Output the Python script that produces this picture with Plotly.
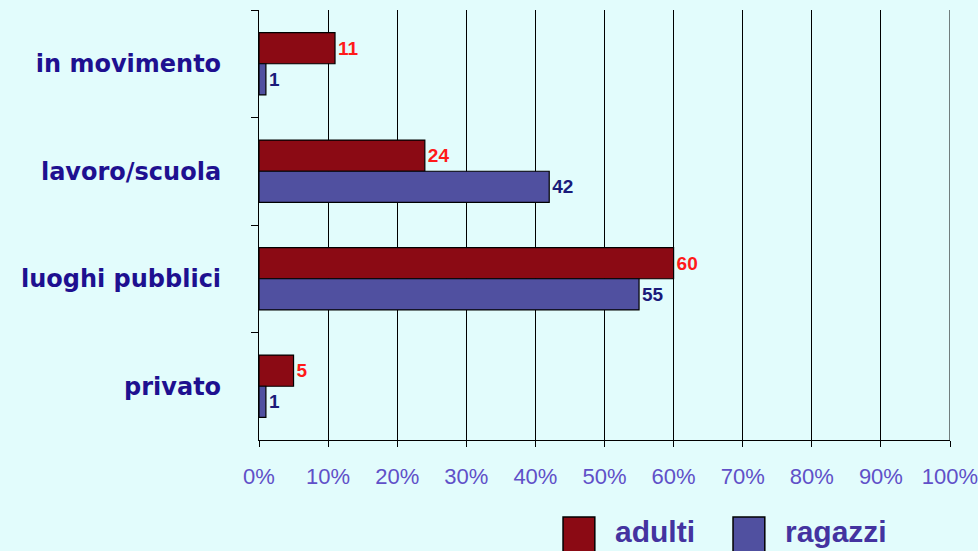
import plotly.graph_objects as go

categories = ["in movimento", "lavoro/scuola", "luoghi pubblici", "privato"]
series_names = ["adulti", "ragazzi"]
adulti = [11, 24, 60, 5]
ragazzi = [1, 42, 55, 1]
tick_vals = [0, 10, 20, 30, 40, 50, 60, 70, 80, 90, 100]
tick_text = ["0%", "10%", "20%", "30%", "40%", "50%", "60%", "70%", "80%", "90%", "100%"]

colors = ["#8B0A14", "#5050A0"]
label_colors = ["#FF1A1A", "#1A1A7A"]
bg = "#E2FCFC"

fig = go.Figure()
for name, vals, col, lcol in zip(series_names, [adulti, ragazzi], colors, label_colors):
    fig.add_trace(go.Bar(
        y=categories, x=vals, name=name, orientation="h",
        marker=dict(color=col, line=dict(color="#000000", width=1.2)),
        text=[str(v) for v in vals], textposition="outside",
        textfont=dict(family="Liberation Sans", size=19, color=lcol, weight="bold"),
        cliponaxis=False, showlegend=False,
    ))

fig.update_layout(
    width=978, height=551,
    margin=dict(l=259, r=28, t=10, b=111),
    paper_bgcolor=bg, plot_bgcolor=bg,
    barmode="group", bargap=0.42, bargroupgap=0,
    xaxis=dict(
        range=[0, 100], tickvals=tick_vals, ticktext=tick_text,
        showgrid=True, gridcolor="#000000", gridwidth=1,
        showline=True, linecolor="#000000", linewidth=1.2,
        ticks="outside", ticklen=6, tickcolor="#000000",
        tickfont=dict(family="Liberation Sans", size=22, color="#6050C8"),
        ticklabelstandoff=10, zeroline=False, ticklabeloverflow="allow",
        automargin=False,
    ),
    yaxis=dict(
        autorange="reversed", showgrid=False,
        showline=True, linecolor="#000000", linewidth=1.2,
        ticks="outside", ticklen=7, tickcolor="#000000", tickson="boundaries",
        tickfont=dict(family="DejaVu Sans", size=24, color="#1E1090", weight="bold"),
        ticklabelstandoff=32, automargin=False,
    ),
)

# gridline at the right end of the axis (plotly omits it at the range edge)
fig.add_shape(type="line", xref="x", yref="paper", x0=tick_vals[-1], x1=tick_vals[-1],
              y0=0, y1=1, line=dict(color="#000000", width=1))

# legend drawn as shapes + text under the axis
legend_x = [0.440, 0.686]
for name, col, lx in zip(series_names, colors, legend_x):
    fig.add_shape(type="rect", xref="paper", yref="paper",
                  x0=lx, x1=lx + 0.046, y0=-0.26, y1=-0.179,
                  fillcolor=col, line=dict(color="#000000", width=1.5))
    fig.add_annotation(xref="paper", yref="paper", x=lx + 0.072, y=-0.213,
                       text=name, showarrow=False, xanchor="left", yanchor="middle",
                       font=dict(family="Liberation Sans", size=30, color="#4433A0", weight="bold"))

fig.write_html(
    "out.html",
    config={"displayModeBar": False},
    post_script="document.body.style.margin='0';document.body.style.background='" + bg + "';",
)
